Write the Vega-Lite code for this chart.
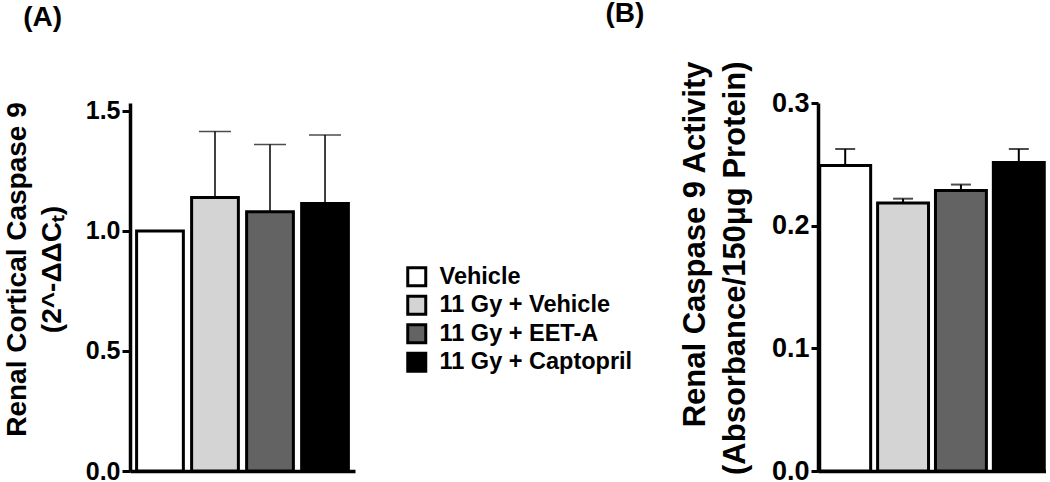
{
  "$schema": "https://vega.github.io/schema/vega-lite/v6.json",
  "padding": {"left": 3, "top": 0, "right": 0, "bottom": 0},
  "background": "white",
  "spacing": 250,
  "datasets": {
    "a": [
      {"group": "Vehicle", "mean": 1.0, "upper": null},
      {"group": "11 Gy + Vehicle", "mean": 1.14, "upper": 1.415},
      {"group": "11 Gy + EET-A", "mean": 1.08, "upper": 1.36},
      {"group": "11 Gy + Captopril", "mean": 1.115, "upper": 1.40}
    ],
    "b": [
      {"group": "Vehicle", "mean": 0.249, "upper": 0.2625},
      {"group": "11 Gy + Vehicle", "mean": 0.2185, "upper": 0.222},
      {"group": "11 Gy + EET-A", "mean": 0.2286, "upper": 0.2335},
      {"group": "11 Gy + Captopril", "mean": 0.2515, "upper": 0.2625}
    ]
  },
  "config": {
    "view": {"stroke": null},
    "font": "Liberation Sans",
    "axis": {
      "domainColor": "black", "tickColor": "black", "labelColor": "black", "titleColor": "black",
      "labelFont": "Liberation Sans", "titleFont": "Liberation Sans",
      "labelFontWeight": "bold", "titleFontWeight": "bold", "grid": false
    },
    "legend": {
      "labelFont": "Liberation Sans", "labelFontWeight": "bold", "labelFontSize": 23.5, "labelColor": "black", "labelLimit": 400,
      "symbolType": "square", "symbolSize": 324, "symbolStrokeColor": "black", "symbolStrokeWidth": 3,
      "rowPadding": -2.5, "labelOffset": 11, "padding": 0, "title": null
    }
  },
  "hconcat": [
    {
      "width": 225,
      "height": 368,
      "title": {"text": "(A)", "anchor": "start", "frame": "bounds", "fontSize": 28, "fontWeight": "bold", "font": "Liberation Sans", "color": "black", "dx": 20, "offset": 67},
      "data": {"name": "a"},
      "encoding": {
        "x": {"field": "group", "type": "nominal", "sort": null,
              "scale": {"paddingInner": 0.15, "paddingOuter": 0.12},
              "axis": {"labels": false, "ticks": false, "title": null, "domainWidth": 3.5}}
      },
      "layer": [
        {
          "mark": {"type": "bar", "stroke": "black", "strokeWidth": 3},
          "encoding": {
            "y": {"field": "mean", "type": "quantitative",
                  "scale": {"domain": [0, 1.5333], "nice": false},
                  "axis": {"values": [0, 0.5, 1, 1.5], "format": ".1f", "labelFontSize": 25, "tickSize": 8, "tickWidth": 3, "domainWidth": 3.5, "labelPadding": 2,
                           "title": ["Renal Cortical Caspase 9", "(2^-ΔΔCₜ)"], "titleFontSize": 28, "titleLineHeight": 35, "titlePadding": 19, "titleY": 166}},
            "color": {"field": "group", "type": "nominal", "sort": null,
                      "scale": {"domain": ["Vehicle", "11 Gy + Vehicle", "11 Gy + EET-A", "11 Gy + Captopril"], "range": ["#ffffff", "#d4d4d4", "#636363", "#000000"]},
                      "legend": {"orient": "none", "legendX": 275, "legendY": 162}}
          }
        },
        {
          "transform": [{"filter": "datum.upper != null"}],
          "mark": {"type": "rule", "color": "black", "strokeWidth": 1.5},
          "encoding": {
            "y": {"field": "mean", "type": "quantitative"},
            "y2": {"field": "upper"}
          }
        },
        {
          "transform": [{"filter": "datum.upper != null"}],
          "mark": {"type": "tick", "color": "black", "thickness": 1.5, "size": 32, "orient": "horizontal"},
          "encoding": {
            "y": {"field": "upper", "type": "quantitative"}
          }
        }
      ]
    },
    {
      "width": 228,
      "height": 368,
      "title": {"text": "(B)", "anchor": "start", "frame": "bounds", "fontSize": 28, "fontWeight": "bold", "font": "Liberation Sans", "color": "black", "dx": -74, "offset": 33},
      "data": {"name": "b"},
      "encoding": {
        "x": {"field": "group", "type": "nominal", "sort": null,
              "scale": {"paddingInner": 0.12, "paddingOuter": 0.03},
              "axis": {"labels": false, "ticks": false, "title": null, "domainWidth": 3.5}}
      },
      "layer": [
        {
          "mark": {"type": "bar", "stroke": "black", "strokeWidth": 3},
          "encoding": {
            "y": {"field": "mean", "type": "quantitative",
                  "scale": {"domain": [0, 0.3], "nice": false},
                  "axis": {"values": [0, 0.1, 0.2, 0.3], "format": ".1f", "labelFontSize": 27, "tickSize": 7, "tickWidth": 3, "domainWidth": 3.5, "labelPadding": 2,
                           "title": ["Renal Caspase 9 Activity", "(Absorbance/150μg Protein)"], "titleFontSize": 31, "titleLineHeight": 40, "titlePadding": 20, "titleAlign": "right", "titleY": -42}},
            "color": {"field": "group", "type": "nominal", "sort": null,
                      "scale": {"domain": ["Vehicle", "11 Gy + Vehicle", "11 Gy + EET-A", "11 Gy + Captopril"], "range": ["#ffffff", "#d4d4d4", "#636363", "#000000"]},
                      "legend": {"orient": "none", "legendX": 275, "legendY": 162}}
          }
        },
        {
          "mark": {"type": "rule", "color": "black", "strokeWidth": 2},
          "encoding": {
            "y": {"field": "mean", "type": "quantitative"},
            "y2": {"field": "upper"}
          }
        },
        {
          "mark": {"type": "tick", "color": "black", "thickness": 2, "size": 20, "orient": "horizontal"},
          "encoding": {
            "y": {"field": "upper", "type": "quantitative"}
          }
        }
      ]
    }
  ]
}
